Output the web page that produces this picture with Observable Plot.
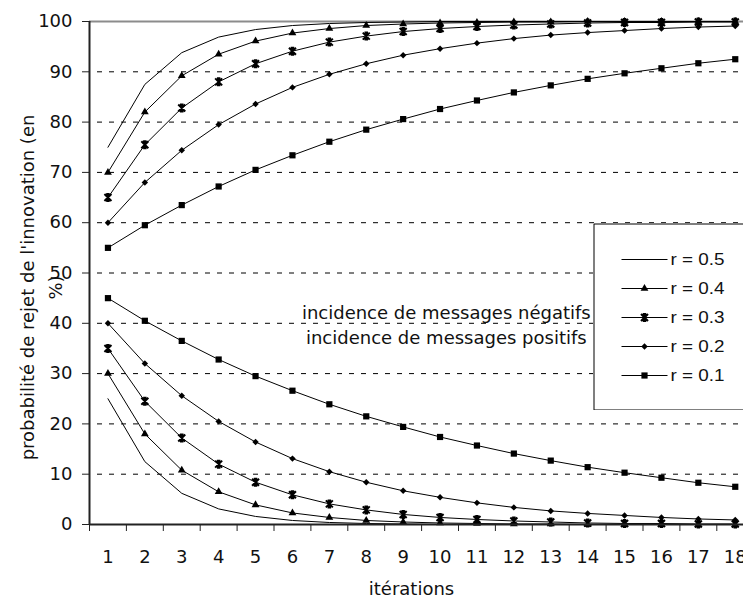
<!DOCTYPE html>
<html><head><meta charset="utf-8">
<script src="https://cdn.jsdelivr.net/npm/d3@7"></script>
<script src="https://cdn.jsdelivr.net/npm/@observablehq/plot@0.6"></script>
<style>
body{margin:0;background:#fff;}
#c{position:relative;width:743px;height:601px;overflow:hidden;background:#fff;}
#c svg{overflow:hidden;}
</style>
</head><body><div id="c"></div>
<script>
// ---- data ----
const iterations = [1,2,3,4,5,6,7,8,9,10,11,12,13,14,15,16,17,18];
const seriesLabels = ["r = 0.5","r = 0.4","r = 0.3","r = 0.2","r = 0.1"];

// incidence de messages négatifs (upper curves)
const neg_r05 = [75,87.5,93.8,96.9,98.4,99.2,99.6,99.8,99.9,100,100,100,100,100,100,100,100,100];
const neg_r04 = [70,82,89.2,93.5,96.1,97.7,98.6,99.2,99.5,99.7,99.8,99.9,99.9,100,100,100,100,100];
const neg_r03 = [65,75.5,82.8,88,91.6,94.1,95.9,97.1,98,98.6,99,99.3,99.5,99.7,99.8,99.8,99.9,99.9];
const neg_r02 = [60,68,74.4,79.5,83.6,86.9,89.5,91.6,93.3,94.6,95.7,96.6,97.3,97.8,98.2,98.6,98.9,99.1];
const neg_r01 = [55,59.5,63.5,67.2,70.5,73.4,76.1,78.5,80.6,82.6,84.3,85.9,87.3,88.6,89.7,90.7,91.7,92.5];

// incidence de messages positifs (lower curves)
const pos_r05 = [25,12.5,6.2,3.1,1.6,0.8,0.4,0.2,0.1,0,0,0,0,0,0,0,0,0];
const pos_r04 = [30,18,10.8,6.5,3.9,2.3,1.4,0.8,0.5,0.3,0.2,0.1,0.1,0,0,0,0,0];
const pos_r03 = [35,24.5,17.2,12,8.4,5.9,4.1,2.9,2,1.4,1,0.7,0.5,0.3,0.2,0.2,0.1,0.1];
const pos_r02 = [40,32,25.6,20.5,16.4,13.1,10.5,8.4,6.7,5.4,4.3,3.4,2.7,2.2,1.8,1.4,1.1,0.9];
const pos_r01 = [45,40.5,36.5,32.8,29.5,26.6,23.9,21.5,19.4,17.4,15.7,14.1,12.7,11.4,10.3,9.3,8.3,7.5];

const yTicks = [0,10,20,30,40,50,60,70,80,90,100];
const gridValues = [10,20,30,40,50,60,70,80,90];
const topValue = [100];
const xAxisLabel = "itérations";
const yAxisLabel = "probabilité de rejet de l'innovation (en\n%)";
const annotations = [
  {text: "incidence de messages négatifs", x: 10.17, y: 42.1},
  {text: "incidence de messages positifs", x: 10.17, y: 37}
];

// ---- build tidy table ----
const negSeries = [neg_r05, neg_r04, neg_r03, neg_r02, neg_r01];
const posSeries = [pos_r05, pos_r04, pos_r03, pos_r02, pos_r01];
const rows = [];
seriesLabels.forEach((lab, i) => {
  iterations.forEach((it, j) => {
    rows.push({it, v: negSeries[i][j], r: lab, dir: "neg"});
    rows.push({it, v: posSeries[i][j], r: lab, dir: "pos"});
  });
});
const boundaries = [0, ...iterations].map(d => d + 0.5);

// custom star marker (Excel-like asterisk: X plus vertical bar)
const star = {
  draw(ctx, size) {
    const s = Math.sqrt(size / Math.PI);
    ctx.moveTo(-s, -s); ctx.lineTo(s, s);
    ctx.moveTo(-s, s); ctx.lineTo(s, -s);
    ctx.moveTo(0, -s); ctx.lineTo(0, s);
    ctx.moveTo(-s * 0.5, -s); ctx.lineTo(s * 0.5, -s);
    ctx.moveTo(-s * 0.5, s); ctx.lineTo(s * 0.5, s);
  }
};
const markerSpec = {
  "r = 0.5": null,
  "r = 0.4": {symbol: "triangle", r: 2.9, fill: "black", stroke: "none"},
  "r = 0.3": {symbol: star, r: 3.5, fill: "none", stroke: "black", strokeWidth: 2},
  "r = 0.2": {symbol: "diamond2", r: 2.9, fill: "black", stroke: "none"},
  "r = 0.1": {symbol: "square", r: 3.5, fill: "black", stroke: "none"}
};

const dotMarks = seriesLabels.filter(l => markerSpec[l]).map(l =>
  Plot.dot(rows.filter(d => d.r === l), {x: "it", y: "v", ...markerSpec[l]})
);

const chart = Plot.plot({
  width: 743,
  height: 601,
  marginLeft: 89,
  marginTop: 21,
  marginBottom: 77,
  marginRight: 0,
  style: {fontFamily: "DejaVu Sans", fontSize: "18px", color: "black", background: "white"},
  x: {type: "linear", domain: [0.5, 18.5], range: [89, 753.2]},
  y: {domain: [0, 100], range: [524, 21]},
  marks: [
    Plot.ruleY(gridValues, {stroke: "black", strokeWidth: 1, strokeDasharray: "5,7", strokeDashoffset: 4}),
    Plot.ruleY(topValue, {stroke: "#8c8c8c", strokeWidth: 2}),
    Plot.line(rows, {x: "it", y: "v", z: d => d.r + d.dir, stroke: "black", strokeWidth: 1}),
    ...dotMarks,
    Plot.text(annotations, {x: "x", y: "y", text: "text", textAnchor: "middle", lineAnchor: "middle", fill: "#111"}),
    Plot.ruleX([0.5], {stroke: "#222", strokeWidth: 2}),
    Plot.ruleY([0], {stroke: "#222", strokeWidth: 2}),
    Plot.axisY(yTicks, {tickSize: 7, tickPadding: 10, label: null, stroke: "#222", fill: "#111"}),
    Plot.axisX(boundaries, {tickSize: 7, tickFormat: () => "", label: null, stroke: "#222"}),
    Plot.axisX(iterations, {tickSize: 0, tickPadding: 26, label: null, fill: "#111"}),
    Plot.text([yAxisLabel], {text: d => d, frameAnchor: "left", rotate: -90, textAnchor: "middle", lineAnchor: "top", lineHeight: 1.55, dx: -75, dy: 14.5, fill: "#111"}),
    Plot.text([xAxisLabel], {text: d => d, frameAnchor: "bottom", lineAnchor: "middle", textAnchor: "middle", dx: -5, dy: 65, fill: "#111"})
  ]
});

// ---- legend (inside the plot, drawn as a small Plot) ----
const legendRows = seriesLabels.map(l => ({r: l}));
const legendDots = seriesLabels.filter(l => markerSpec[l]).map(l =>
  Plot.dot(legendRows.filter(d => d.r === l), {x: () => 0.5, y: "r", ...markerSpec[l]})
);
const legend = Plot.plot({
  width: 170,
  height: 187,
  marginTop: 0.5, marginLeft: 0.5, marginBottom: 0.5, marginRight: 0.5,
  style: {fontFamily: "Liberation Sans, Arial, sans-serif", fontSize: "16px", color: "black", background: "white"},
  x: {type: "linear", domain: [0, 1], range: [28, 74], axis: null},
  y: {type: "point", domain: seriesLabels, range: [20, 168.5], axis: null},
  marks: [
    Plot.frame({fill: "white", stroke: "black", strokeWidth: 1}),
    Plot.link(legendRows, {x1: () => 0, x2: () => 1, y1: "r", y2: "r", stroke: "black", strokeWidth: 1}),
    ...legendDots,
    Plot.text(legendRows, {x: () => 1, y: "r", text: "r", textAnchor: "start", dx: 3, fill: "#111", lineAnchor: "middle"})
  ]
});
legend.style.position = "absolute";
legend.style.left = "593px";
legend.style.top = "223px";
legend.style.maxWidth = "none";

const c = document.getElementById("c");
c.appendChild(chart);
c.appendChild(legend);
d3.select(legend).selectAll("text").attr("textLength", 54).attr("lengthAdjust", "spacingAndGlyphs");
</script>
</body></html>
